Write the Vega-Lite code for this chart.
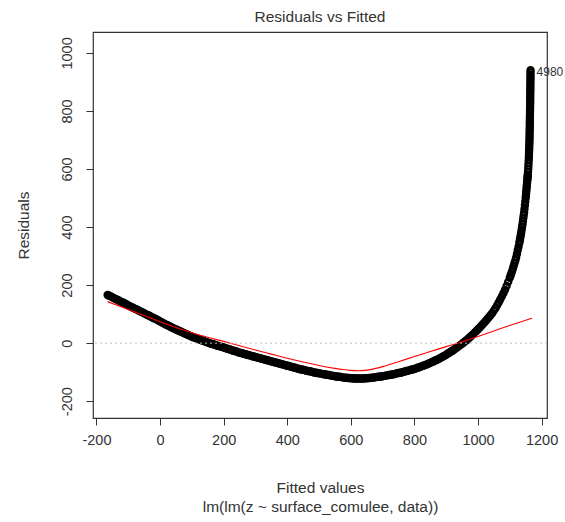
{
  "$schema": "https://vega.github.io/schema/vega-lite/v6.json",
  "width": 454,
  "height": 386,
  "autosize": {"type": "none"},
  "padding": {"left": 93, "top": 32, "right": 18, "bottom": 104},
  "background": "white",
  "config": {
    "view": {"stroke": "#333333", "strokeWidth": 1.2},
    "font": "Liberation Sans",
    "axis": {"grid": false, "domain": false, "tickColor": "#333333", "tickSize": 7, "labelColor": "#333333", "titleColor": "#333333", "labelFont": "Liberation Sans", "titleFont": "Liberation Sans", "titleFontWeight": "normal", "labelFontSize": 14.5, "titleFontSize": 15.5, "labelExpr": "'' + datum.value"}
  },
  "title": {"text": "Residuals vs Fitted", "fontSize": 15.5, "fontWeight": "normal", "color": "#333333", "font": "Liberation Sans", "offset": 7, "anchor": "middle"},
  "datasets": {
    "pts": [
      {"x": -165, "y": 166}, {"x": -160, "y": 163}, {"x": -155, "y": 161}, {"x": -150, "y": 158}, {"x": -145, "y": 155}, {"x": -140, "y": 152}, {"x": -135, "y": 150}, {"x": -130, "y": 147},
      {"x": -125, "y": 144}, {"x": -120, "y": 141}, {"x": -115, "y": 139}, {"x": -110, "y": 136}, {"x": -105, "y": 133}, {"x": -100, "y": 130}, {"x": -95, "y": 127}, {"x": -90, "y": 124}, {"x": -85, "y": 122}, {"x": -80, "y": 119},
      {"x": -75, "y": 117}, {"x": -70, "y": 114}, {"x": -65, "y": 111}, {"x": -60, "y": 108}, {"x": -55, "y": 106}, {"x": -50, "y": 103}, {"x": -45, "y": 100}, {"x": -40, "y": 97}, {"x": -35, "y": 95}, {"x": -30, "y": 92},
      {"x": -25, "y": 89}, {"x": -20, "y": 86}, {"x": -15, "y": 84}, {"x": -10, "y": 81}, {"x": -5, "y": 78}, {"x": 0, "y": 75}, {"x": 5, "y": 72}, {"x": 10, "y": 69}, {"x": 15, "y": 66}, {"x": 20, "y": 63},
      {"x": 25, "y": 61}, {"x": 30, "y": 58}, {"x": 35, "y": 55}, {"x": 40, "y": 52}, {"x": 45, "y": 50}, {"x": 50, "y": 47}, {"x": 55, "y": 45}, {"x": 60, "y": 42}, {"x": 65, "y": 40}, {"x": 70, "y": 37},
      {"x": 75, "y": 35}, {"x": 80, "y": 32}, {"x": 85, "y": 30}, {"x": 90, "y": 27}, {"x": 95, "y": 25}, {"x": 100, "y": 22}, {"x": 105, "y": 20}, {"x": 110, "y": 18}, {"x": 115, "y": 16}, {"x": 120, "y": 14},
      {"x": 125, "y": 12}, {"x": 130, "y": 10}, {"x": 135, "y": 8}, {"x": 140, "y": 6}, {"x": 145, "y": 4}, {"x": 150, "y": 2}, {"x": 155, "y": 0}, {"x": 160, "y": -2}, {"x": 165, "y": -3}, {"x": 170, "y": -5},
      {"x": 175, "y": -7}, {"x": 180, "y": -9}, {"x": 185, "y": -10}, {"x": 190, "y": -12}, {"x": 195, "y": -13}, {"x": 200, "y": -15}, {"x": 205, "y": -17}, {"x": 210, "y": -19}, {"x": 215, "y": -20}, {"x": 220, "y": -22},
      {"x": 225, "y": -24}, {"x": 230, "y": -26}, {"x": 235, "y": -27}, {"x": 240, "y": -29}, {"x": 245, "y": -31}, {"x": 250, "y": -33}, {"x": 255, "y": -34}, {"x": 260, "y": -36}, {"x": 265, "y": -37}, {"x": 270, "y": -39},
      {"x": 275, "y": -40}, {"x": 280, "y": -42}, {"x": 285, "y": -43}, {"x": 290, "y": -45}, {"x": 295, "y": -46}, {"x": 300, "y": -48}, {"x": 305, "y": -49}, {"x": 310, "y": -51}, {"x": 315, "y": -52}, {"x": 320, "y": -54},
      {"x": 325, "y": -55}, {"x": 330, "y": -57}, {"x": 335, "y": -58}, {"x": 340, "y": -60}, {"x": 345, "y": -61}, {"x": 350, "y": -63}, {"x": 355, "y": -64}, {"x": 360, "y": -66}, {"x": 365, "y": -67}, {"x": 370, "y": -69},
      {"x": 375, "y": -70}, {"x": 380, "y": -72}, {"x": 385, "y": -73}, {"x": 390, "y": -75}, {"x": 395, "y": -76}, {"x": 400, "y": -78}, {"x": 405, "y": -79}, {"x": 410, "y": -81}, {"x": 415, "y": -82}, {"x": 420, "y": -84},
      {"x": 425, "y": -85}, {"x": 430, "y": -87}, {"x": 435, "y": -88}, {"x": 440, "y": -90}, {"x": 445, "y": -91}, {"x": 450, "y": -92}, {"x": 455, "y": -93}, {"x": 460, "y": -95}, {"x": 465, "y": -96}, {"x": 470, "y": -97},
      {"x": 475, "y": -98}, {"x": 480, "y": -100}, {"x": 485, "y": -101}, {"x": 490, "y": -102}, {"x": 495, "y": -103}, {"x": 500, "y": -104}, {"x": 505, "y": -105}, {"x": 510, "y": -106}, {"x": 515, "y": -107}, {"x": 520, "y": -108},
      {"x": 525, "y": -109}, {"x": 530, "y": -110}, {"x": 535, "y": -111}, {"x": 540, "y": -112}, {"x": 545, "y": -113}, {"x": 550, "y": -114}, {"x": 555, "y": -115}, {"x": 560, "y": -116}, {"x": 565, "y": -116}, {"x": 570, "y": -117},
      {"x": 575, "y": -118}, {"x": 580, "y": -119}, {"x": 585, "y": -119}, {"x": 590, "y": -120}, {"x": 595, "y": -120}, {"x": 600, "y": -121}, {"x": 605, "y": -121}, {"x": 610, "y": -122}, {"x": 615, "y": -122}, {"x": 620, "y": -122},
      {"x": 625, "y": -122}, {"x": 630, "y": -122}, {"x": 635, "y": -122}, {"x": 640, "y": -122}, {"x": 645, "y": -121}, {"x": 650, "y": -121}, {"x": 655, "y": -120}, {"x": 660, "y": -120}, {"x": 665, "y": -119}, {"x": 670, "y": -119},
      {"x": 675, "y": -118}, {"x": 680, "y": -117}, {"x": 685, "y": -116}, {"x": 690, "y": -116}, {"x": 695, "y": -115}, {"x": 700, "y": -114}, {"x": 705, "y": -113}, {"x": 710, "y": -112}, {"x": 715, "y": -111}, {"x": 720, "y": -110},
      {"x": 725, "y": -109}, {"x": 730, "y": -108}, {"x": 735, "y": -107}, {"x": 740, "y": -106}, {"x": 745, "y": -104}, {"x": 750, "y": -103}, {"x": 755, "y": -102}, {"x": 760, "y": -101}, {"x": 765, "y": -99}, {"x": 770, "y": -98},
      {"x": 775, "y": -96}, {"x": 780, "y": -95}, {"x": 785, "y": -93}, {"x": 790, "y": -92}, {"x": 795, "y": -90}, {"x": 800, "y": -89}, {"x": 805, "y": -87}, {"x": 810, "y": -85}, {"x": 815, "y": -83}, {"x": 820, "y": -81},
      {"x": 825, "y": -79}, {"x": 830, "y": -77}, {"x": 835, "y": -75}, {"x": 840, "y": -73}, {"x": 845, "y": -70}, {"x": 850, "y": -68}, {"x": 855, "y": -65}, {"x": 860, "y": -63}, {"x": 865, "y": -60}, {"x": 870, "y": -58},
      {"x": 875, "y": -55}, {"x": 880, "y": -52}, {"x": 885, "y": -49}, {"x": 890, "y": -46}, {"x": 895, "y": -43}, {"x": 900, "y": -40}, {"x": 905, "y": -36}, {"x": 910, "y": -33}, {"x": 915, "y": -29}, {"x": 920, "y": -26},
      {"x": 925, "y": -22}, {"x": 930, "y": -18}, {"x": 935, "y": -14}, {"x": 940, "y": -10}, {"x": 945, "y": -6}, {"x": 950, "y": -2}, {"x": 955, "y": 2}, {"x": 960, "y": 7}, {"x": 965, "y": 11}, {"x": 970, "y": 16},
      {"x": 975, "y": 21}, {"x": 980, "y": 26}, {"x": 985, "y": 31}, {"x": 990, "y": 37}, {"x": 995, "y": 42}, {"x": 1000, "y": 48}, {"x": 1005, "y": 53}, {"x": 1010, "y": 59}, {"x": 1015, "y": 65}, {"x": 1020, "y": 71},
      {"x": 1025, "y": 77}, {"x": 1030, "y": 84}, {"x": 1035, "y": 90}, {"x": 1040, "y": 97}, {"x": 1045, "y": 104}, {"x": 1050, "y": 112}, {"x": 1055, "y": 120}, {"x": 1060, "y": 130},
      {"x": 1065, "y": 140}, {"x": 1070, "y": 150}, {"x": 1075, "y": 161}, {"x": 1080, "y": 172}, {"x": 1085, "y": 184},
      {"x": 1090, "y": 197}, {"x": 1095, "y": 211}, {"x": 1100, "y": 225}, {"x": 1102.5, "y": 233}, {"x": 1105, "y": 241}, {"x": 1107.5, "y": 249}, {"x": 1110, "y": 258},
      {"x": 1112.5, "y": 267}, {"x": 1115, "y": 276}, {"x": 1117.5, "y": 285}, {"x": 1120, "y": 295}, {"x": 1122.5, "y": 307}, {"x": 1125, "y": 320}, {"x": 1127.5, "y": 332},
      {"x": 1130, "y": 345}, {"x": 1131.2, "y": 352}, {"x": 1132.5, "y": 360}, {"x": 1133.7, "y": 367}, {"x": 1135, "y": 375}, {"x": 1136.2, "y": 383}, {"x": 1137.5, "y": 392}, {"x": 1138.7, "y": 401}, {"x": 1140, "y": 410},
      {"x": 1141.2, "y": 420}, {"x": 1142.5, "y": 430}, {"x": 1143.7, "y": 440}, {"x": 1145, "y": 450}, {"x": 1146.2, "y": 462},
      {"x": 1147.5, "y": 475}, {"x": 1148.7, "y": 487}, {"x": 1150, "y": 500}, {"x": 1150.6, "y": 508}, {"x": 1151.2, "y": 515}, {"x": 1151.8, "y": 522}, {"x": 1152.5, "y": 530},
      {"x": 1153.1, "y": 538}, {"x": 1153.7, "y": 545}, {"x": 1154.3, "y": 552}, {"x": 1155, "y": 560}, {"x": 1155.4, "y": 565}, {"x": 1155.8, "y": 570}, {"x": 1156.2, "y": 575}, {"x": 1156.5, "y": 580}, {"x": 1157.2, "y": 590},
      {"x": 1158, "y": 600}, {"x": 1158.5, "y": 610}, {"x": 1159, "y": 620}, {"x": 1159.5, "y": 630}, {"x": 1160, "y": 640}, {"x": 1160.2, "y": 648},
      {"x": 1160.5, "y": 655}, {"x": 1160.7, "y": 663}, {"x": 1161, "y": 670}, {"x": 1161.2, "y": 678}, {"x": 1161.5, "y": 685}, {"x": 1161.7, "y": 693}, {"x": 1162, "y": 700}, {"x": 1162.1, "y": 708}, {"x": 1162.2, "y": 715},
      {"x": 1162.3, "y": 723}, {"x": 1162.5, "y": 730}, {"x": 1162.6, "y": 738}, {"x": 1162.8, "y": 745}, {"x": 1162.9, "y": 753}, {"x": 1163, "y": 760}, {"x": 1163.1, "y": 768}, {"x": 1163.2, "y": 775}, {"x": 1163.3, "y": 783}, {"x": 1163.5, "y": 790},
      {"x": 1163.6, "y": 798}, {"x": 1163.7, "y": 805}, {"x": 1163.8, "y": 813}, {"x": 1164, "y": 820}, {"x": 1164.1, "y": 828}, {"x": 1164.2, "y": 835}, {"x": 1164.25, "y": 843}, {"x": 1164.3, "y": 850}, {"x": 1164.4, "y": 858}, {"x": 1164.5, "y": 865},
      {"x": 1164.55, "y": 873}, {"x": 1164.6, "y": 880}, {"x": 1164.7, "y": 888}, {"x": 1164.8, "y": 895}, {"x": 1164.9, "y": 903}, {"x": 1165, "y": 910}, {"x": 1165.05, "y": 918}, {"x": 1165.1, "y": 925}, {"x": 1165.2, "y": 933}, {"x": 1165.3, "y": 940}
    ],
    "smooth": [
      {"x": -165, "y": 143}, {"x": -100, "y": 116}, {"x": -50, "y": 95}, {"x": 0, "y": 74}, {"x": 50, "y": 54},
      {"x": 100, "y": 36}, {"x": 150, "y": 20}, {"x": 200, "y": 6}, {"x": 250, "y": -9}, {"x": 300, "y": -24},
      {"x": 350, "y": -38}, {"x": 400, "y": -52}, {"x": 450, "y": -65}, {"x": 500, "y": -77}, {"x": 550, "y": -87},
      {"x": 575, "y": -91}, {"x": 600, "y": -94}, {"x": 625, "y": -95}, {"x": 650, "y": -93}, {"x": 675, "y": -88}, {"x": 700, "y": -81}, {"x": 750, "y": -64}, {"x": 800, "y": -46},
      {"x": 850, "y": -29}, {"x": 900, "y": -12}, {"x": 950, "y": 5}, {"x": 1000, "y": 23}, {"x": 1050, "y": 42},
      {"x": 1100, "y": 61}, {"x": 1170, "y": 86}
    ],
    "labels": [
      {"x": 1165.3, "y": 940, "id": "4980"}
    ]
  },
  "layer": [
    {
      "data": {"name": "pts"},
      "mark": {"type": "point", "filled": false, "color": "black", "strokeWidth": 2.4, "size": 36, "opacity": 1},
      "encoding": {
        "x": {"field": "x", "type": "quantitative", "scale": {"domain": [-211, 1217], "nice": false, "zero": false},
              "axis": {"values": [-200, 0, 200, 400, 600, 800, 1000, 1200], "labelPadding": 8, "title": ["Fitted values", "lm(lm(z ~ surface_comulee, data))"], "titlePadding": 34, "titleLineHeight": 19}},
        "y": {"field": "y", "type": "quantitative", "scale": {"domain": [-258, 1072], "nice": false, "zero": false},
              "axis": {"values": [-200, 0, 200, 400, 600, 800, 1000], "labelAngle": 270, "labelAlign": "center", "labelBaseline": "bottom", "labelPadding": 12, "title": "Residuals", "titlePadding": 28}}
      }
    },
    {
      "data": {"name": "smooth"},
      "mark": {"type": "line", "color": "#ff0000", "strokeWidth": 1.1, "interpolate": "monotone"},
      "encoding": {
        "x": {"field": "x", "type": "quantitative"},
        "y": {"field": "y", "type": "quantitative"}
      }
    },
    {
      "data": {"values": [{"h": 0}]},
      "mark": {"type": "rule", "color": "#bebebe", "strokeWidth": 1, "strokeDash": [2, 3]},
      "encoding": {"y": {"field": "h", "type": "quantitative"}}
    },
    {
      "data": {"name": "labels"},
      "mark": {"type": "text", "align": "left", "baseline": "middle", "dx": 6, "dy": 2, "fontSize": 12, "color": "#333333", "font": "Liberation Sans"},
      "encoding": {
        "x": {"field": "x", "type": "quantitative"},
        "y": {"field": "y", "type": "quantitative"},
        "text": {"field": "id", "type": "nominal"}
      }
    }
  ]
}
